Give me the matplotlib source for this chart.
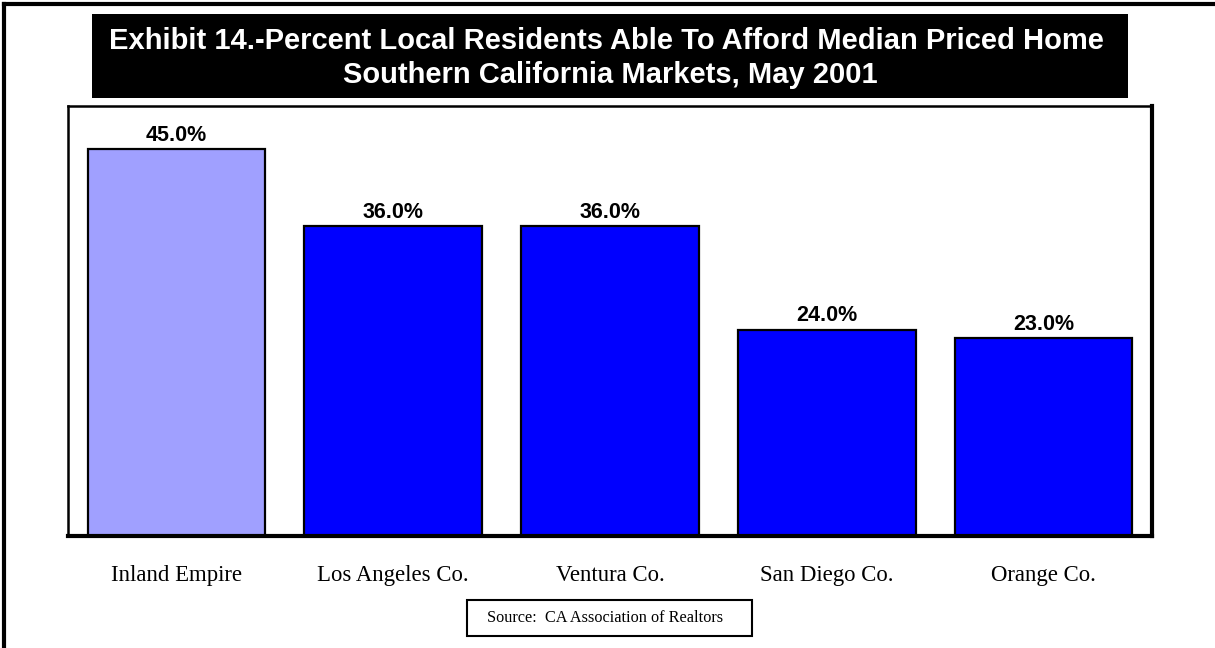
import matplotlib
matplotlib.use("Agg")
import matplotlib.pyplot as plt
from matplotlib.lines import Line2D
from matplotlib.patches import Rectangle

markets = ["Inland Empire", "Los Angeles Co.", "Ventura Co.", "San Diego Co.", "Orange Co."]
afford_pct = [45.0, 36.0, 36.0, 24.0, 23.0]
bar_colors = ["#a0a0ff", "#0000ff", "#0000ff", "#0000ff", "#0000ff"]

title_lines = ["Exhibit 14.-Percent Local Residents Able To Afford Median Priced Home",
               "Southern California Markets, May 2001"]
source_note = "Source:  CA Association of Realtors"

fig = plt.figure(figsize=(12.15, 6.48), dpi=100)
ax = fig.add_axes([0.056, 0.1728, 0.892, 0.6636])

x = range(len(markets))
ax.bar(x, afford_pct, width=0.82, color=bar_colors, edgecolor="black", linewidth=1.6)

for xi, v in zip(x, afford_pct):
    ax.text(xi, v + 0.4, f"{v:.1f}%", ha="center", va="bottom",
            fontsize=15.5, fontweight="bold", family="Liberation Sans")

ax.set_xlim(-0.5, len(markets) - 0.5)
ax.set_ylim(0, 50)
ax.set_yticks([])
ax.set_xticks(list(x))
ax.set_xticklabels(markets, family="Liberation Serif", fontsize=16.4)
ax.tick_params(axis="x", length=0, pad=21)
for side in ["left", "top"]:
    ax.spines[side].set_linewidth(1.8)
for side in ["right", "bottom"]:
    ax.spines[side].set_linewidth(3)

# black title banner
fig.patches.append(Rectangle((92 / 1215, 1 - 98 / 648), 1036 / 1215, 84 / 648,
                             transform=fig.transFigure, facecolor="black", edgecolor="none"))
fig.text(606 / 1215, 1 - 41 / 648, title_lines[0], ha="center", va="center", color="white",
         fontsize=21, fontweight="bold", family="Liberation Sans")
fig.text(610 / 1215, 1 - 75 / 648, title_lines[1], ha="center", va="center", color="white",
         fontsize=21, fontweight="bold", family="Liberation Sans")

# source box
fig.patches.append(Rectangle((467 / 1215, 1 - 636 / 648), 285 / 1215, 36 / 648,
                             transform=fig.transFigure, facecolor="white",
                             edgecolor="black", linewidth=1.5))
fig.text(605 / 1215, 1 - 618 / 648, source_note, ha="center", va="center",
         fontsize=11.7, family="Liberation Serif")

# page border on left and top
fig.lines.append(Line2D([4 / 1215, 4 / 1215], [0, 1 - 4 / 648], transform=fig.transFigure,
                        color="black", linewidth=3))
fig.lines.append(Line2D([4 / 1215, 1], [1 - 4 / 648, 1 - 4 / 648], transform=fig.transFigure,
                        color="black", linewidth=3))

fig.savefig("out.png", dpi=100)
